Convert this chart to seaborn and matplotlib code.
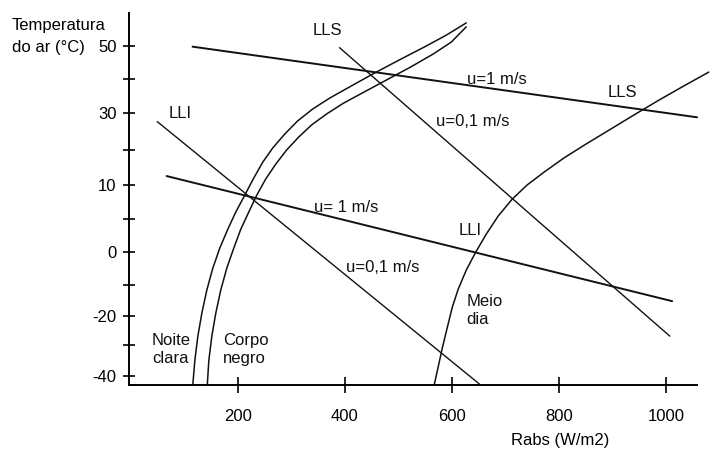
import matplotlib
matplotlib.use("Agg")
import matplotlib.pyplot as plt
import pandas as pd
import seaborn as sns

# Straight lines (Rabs in W/m2, air temperature)
lls_u1_x = [115.6, 1057.2]
lls_u1_y = [49.8, 28.4]
lli_u1_x = [67.2, 1010.6]
lli_u1_y = [10.6, -27.3]
lls_u01_x = [389.9, 1006.3]
lls_u01_y = [49.5, -37.9]
lli_u01_x = [49.7, 650.9]
lli_u01_y = [27.1, -52.4]

# Curves
noite_x = [116.2, 119.9, 125.5, 133.0, 142.3, 153.4, 166.5, 181.4, 196.3, 213.0, 229.8, 246.6,
           265.2, 287.5, 311.7, 339.7, 371.3, 408.6, 455.1, 501.7, 548.2, 589.2, 626.4]
noite_y = [-52.4, -45.2, -37.9, -30.9, -23.9, -17.3, -11.2, -5.5, -0.3, 4.8, 10.0, 14.8,
           19.1, 23.3, 27.3, 30.9, 34.2, 37.6, 41.8, 45.8, 49.7, 53.3, 57.0]
corpo_x = [143.2, 146.0, 151.6, 159.0, 168.3, 179.5, 192.6, 205.6, 220.5, 235.4, 252.1, 270.8,
           291.2, 313.6, 337.8, 365.7, 397.4, 432.8, 477.5, 522.2, 565.0, 598.5, 626.4]
corpo_y = [-52.4, -45.2, -37.9, -30.9, -23.9, -17.3, -11.2, -5.5, -0.3, 4.8, 9.7, 14.2,
           18.5, 22.4, 26.1, 29.4, 32.7, 35.8, 39.7, 43.6, 47.6, 51.2, 55.8]
meio_x = [566.9, 574.3, 581.7, 591.1, 600.4, 611.5, 626.4, 643.2, 663.7, 686.0, 712.1, 740.0,
          771.7, 808.9, 849.9, 892.7, 939.3, 985.9, 1032.4, 1079.0]
meio_y = [-52.4, -47.0, -41.5, -35.2, -29.1, -23.6, -17.9, -12.7, -7.0, -1.5, 3.6, 7.9,
          11.8, 16.1, 20.3, 24.5, 29.1, 33.6, 37.9, 42.1]

# Axis ticks as drawn (the hand-drawn y axis is not evenly labelled)
x_ticks = [200, 400, 600, 800, 1000]
y_ticks = [50, 40, 29.7, 18.5, 7.9, -2.4, -12.4, -22.4, -31.8, -40.6, -50]
y_tick_labels = ['50', '', '30', '', '10', '', '0', '', '-20', '', '-40']

sns.set_theme(style='white')
plt.rcParams['font.family'] = ['Liberation Sans', 'DejaVu Sans']

fig = plt.figure(figsize=(7.1, 4.49), dpi=100)
ax = fig.add_axes([129 / 710, 1 - 385 / 449, 568 / 710, 372 / 449])

ink = '#111111'
series = [
    (lls_u1_x, lls_u1_y, 1.4),
    (lli_u1_x, lli_u1_y, 1.4),
    (lls_u01_x, lls_u01_y, 1.0),
    (lli_u01_x, lli_u01_y, 1.0),
    (noite_x, noite_y, 1.1),
    (corpo_x, corpo_y, 1.1),
    (meio_x, meio_y, 1.1),
]
for xs, ys, lw in series:
    d = pd.DataFrame({'x': xs, 'y': ys})
    sns.lineplot(data=d, x='x', y='y', ax=ax, sort=False, estimator=None,
                 color=ink, lw=lw, clip_on=False, solid_joinstyle='round')

ax.set_xlim(-3, 1057)
ax.set_ylim(-52.7, 60)

for s in ['top', 'right']:
    ax.spines[s].set_visible(False)
for s in ['left', 'bottom']:
    ax.spines[s].set_color('black')
    ax.spines[s].set_linewidth(1.4)

ax.set_xticks(x_ticks)
ax.set_xticklabels([str(t) for t in x_ticks])
ax.set_yticks(y_ticks)
ax.set_yticklabels(y_tick_labels)
ax.tick_params(axis='x', bottom=True, direction='inout', length=11, width=1.2,
               pad=12, labelsize=12, colors='black')
ax.tick_params(axis='y', left=True, direction='inout', length=8, width=1.2,
               pad=5, labelsize=12, colors='black')

ax.set_xlabel('Rabs (W/m2)', fontsize=12, color='black')
ax.xaxis.set_label_coords(0.759, -0.129)
ax.set_ylabel('')
fig.text(12 / 710, 1 - 30 / 449, 'Temperatura', fontsize=12, ha='left', va='baseline', color='black')
fig.text(12 / 710, 1 - 52 / 449, 'do ar (°C)', fontsize=12, ha='left', va='baseline', color='black')

labels = [
    ('LLS', 367.6, 54.8),
    ('u=1 m/s', 684.2, 40.0),
    ('LLS', 917.0, 35.8),
    ('u=0,1 m/s', 637.6, 27.0),
    ('LLI', 92.0, 29.7),
    ('u= 1 m/s', 403.0, 1.2),
    ('LLI', 633.8, -5.8),
    ('u=0,1 m/s', 470.1, -17.0),
]
for txt, x, y in labels:
    ax.text(x, y, txt, fontsize=12, ha='center', va='center', color=ink)

for txt, x, y in [('Meio\ndia', 626.5, -30.1), ('Noite\nclara', 39.8, -42.0),
                  ('Corpo\nnegro', 172.1, -42.0)]:
    ax.text(x, y, txt, fontsize=12, ha='left', va='center', color=ink)

fig.savefig('out.png', dpi=100)
